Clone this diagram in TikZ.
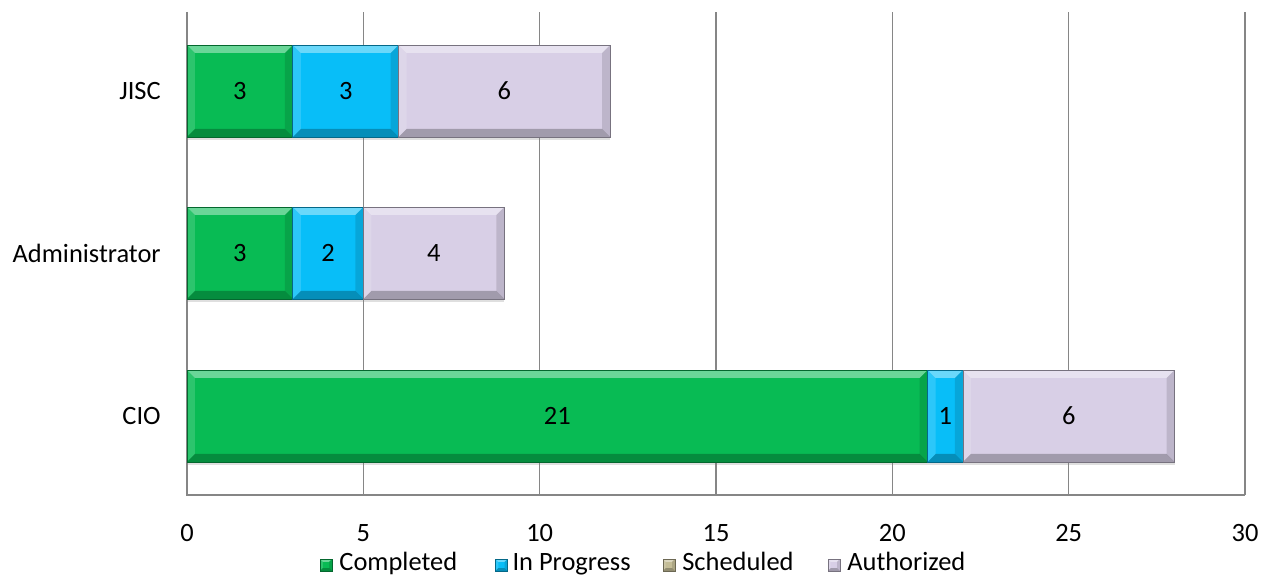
\documentclass[tikz,border=0pt]{standalone}
\usepackage{fontspec}
\setmainfont{Carlito}
\usetikzlibrary{positioning,calc,shadows}

\definecolor{donegreen}{RGB}{8,187,84}
\definecolor{progblue}{RGB}{8,190,248}
\definecolor{schedtan}{RGB}{196,189,151}
\definecolor{authlav}{RGB}{216,207,230}
\definecolor{gridgray}{RGB}{134,134,134}
\newcommand\ux{0.8817cm}

\tikzset{
  bevel/.style={path picture={
    \coordinate (bl) at (path picture bounding box.south west);
    \coordinate (tr) at (path picture bounding box.north east);
    \fill[white,opacity=.4] (bl|-tr) -- (tr) -- ($(tr)+(-#1,-#1)$) -- ($(bl|-tr)+(#1,-#1)$) -- cycle;
    \fill[white,opacity=.15] (bl) -- (bl|-tr) -- ($(bl|-tr)+(#1,-#1)$) -- ($(bl)+(#1,#1)$) -- cycle;
    \fill[black,opacity=.12] (tr|-bl) -- (tr) -- ($(tr)+(-#1,-#1)$) -- ($(tr|-bl)+(-#1,#1)$) -- cycle;
    \fill[black,opacity=.25] (bl) -- (tr|-bl) -- ($(tr|-bl)+(-#1,#1)$) -- ($(bl)+(#1,#1)$) -- cycle;
  }},
  bevel/.default=0.2,
  seg/.style={rectangle, draw=#1!55!black, fill=#1, line width=.5pt, minimum height=2.3cm,
    inner sep=0pt, outer sep=0pt, font=\fontsize{18.8}{22}\selectfont,
    drop shadow={shadow xshift=0cm, shadow yshift=-.07cm, opacity=.25}, bevel},
  key/.style={rectangle, draw=#1!55!black, fill=#1, line width=.3pt, minimum size=.3cm,
    inner sep=0pt, outer sep=0pt, bevel=.07},
  keytext/.style={inner sep=0pt, text height=2ex, text depth=.5ex, font=\fontsize{18.8}{22}\selectfont},
  gridline/.style={draw=gridgray, line width=.8pt},
  ticklabel/.style={font=\fontsize{18.8}{22}\selectfont},
  catlabel/.style={anchor=east, inner sep=0pt, font=\fontsize{18.8}{22}\selectfont}
}

\begin{document}
\begin{tikzpicture}
  \useasboundingbox (-4.675,-2.175) rectangle (27.15,12.375);
  \coordinate (origin) at (0,0);
  \coordinate (xend) at (30*\ux,0cm);
  \coordinate (ytop) at (0,12.075);
  % grid and axes
  \foreach \v in {5,10,...,30}
    \draw[gridline] (\v*\ux,0cm) -- (\v*\ux,12.075cm);
  \draw[gridline] (ytop) -- (origin) -- (xend);
  \foreach \v in {0,5,...,30}
    \node[ticklabel] (tick-\v) at (\v*\ux,-0.95cm) {\v};

  % JISC
  \node[catlabel] (lab-jisc) at (-0.65,10.1) {JISC};
  \node[seg=donegreen, minimum width=3*\ux, anchor=west] (jisc-c) at (0,10.1) {3};
  \node[seg=progblue, minimum width=3*\ux, right=0pt of jisc-c] (jisc-p) {3};
  \node[seg=authlav, minimum width=6*\ux, right=0pt of jisc-p] (jisc-a) {6};

  % Administrator
  \node[catlabel] (lab-admin) at (-0.65,6.05) {Administrator};
  \node[seg=donegreen, minimum width=3*\ux, anchor=west] (admin-c) at (0,6.05) {3};
  \node[seg=progblue, minimum width=2*\ux, right=0pt of admin-c] (admin-p) {2};
  \node[seg=authlav, minimum width=4*\ux, right=0pt of admin-p] (admin-a) {4};

  % CIO
  \node[catlabel] (lab-cio) at (-0.65,1.975) {CIO};
  \node[seg=donegreen, minimum width=21*\ux, anchor=west] (cio-c) at (0,1.975) {21};
  \node[seg=progblue, minimum width=1*\ux, right=0pt of cio-c] (cio-p) {1};
  \node[seg=authlav, minimum width=6*\ux, right=0pt of cio-p] (cio-a) {6};

  % legend
  \node[key=donegreen] (key-c) at (3.475,-1.75) {};
  \node[keytext, right=.18cm of key-c] (txt-c) {Completed};
  \node[key=progblue, right=.95cm of txt-c] (key-p) {};
  \node[keytext, right=.12cm of key-p] (txt-p) {In Progress};
  \node[key=schedtan, right=.8cm of txt-p] (key-s) {};
  \node[keytext, right=.18cm of key-s] (txt-s) {Scheduled};
  \node[key=authlav, right=.85cm of txt-s] (key-a) {};
  \node[keytext, right=.18cm of key-a] (txt-a) {Authorized};
\end{tikzpicture}
\end{document}
